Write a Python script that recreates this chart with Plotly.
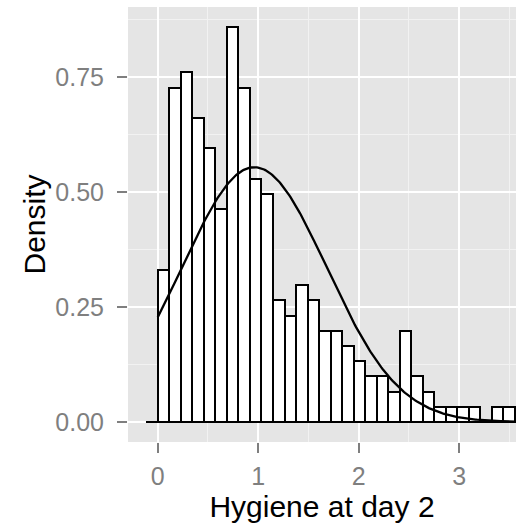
import numpy as np
import plotly.graph_objects as go

# Histogram of hygiene at day 2 (counts per bin), ggplot default 30 bins
bin_width = 0.11467
bin_start = -0.11467
counts = [0, 10, 22, 23, 20, 18, 14, 26, 22, 16, 15, 8, 7, 9, 8, 6,
          6, 5, 4, 3, 3, 2, 6, 3, 2, 1, 1, 1, 1, 0, 1, 1]
n_obs = 264
mean_day2 = 0.9609
sd_day2 = 0.7204

x_ticks = [0, 1, 2, 3]
y_ticks = [0.0, 0.25, 0.5, 0.75]
y_tick_labels = ["0.00", "0.25", "0.50", "0.75"]

centers = [bin_start + (i + 0.5) * bin_width for i in range(len(counts))]
density = [c / (n_obs * bin_width) for c in counts]
x_lo = bin_start
x_hi = bin_start + len(counts) * bin_width

fig = go.Figure()
fig.add_trace(go.Bar(
    x=centers, y=density, width=bin_width,
    marker=dict(color="white", line=dict(color="black", width=2)),
    showlegend=False, hoverinfo="skip",
))
fig.add_trace(go.Scatter(
    x=[x_lo, x_hi], y=[0, 0], mode="lines",
    line=dict(color="black", width=2.2), showlegend=False, hoverinfo="skip",
))
xs = np.linspace(0, x_hi, 300)
ys = np.exp(-0.5 * ((xs - mean_day2) / sd_day2) ** 2) / (sd_day2 * np.sqrt(2 * np.pi))
fig.add_trace(go.Scatter(
    x=xs, y=ys, mode="lines", line=dict(color="black", width=2.3),
    showlegend=False, hoverinfo="skip",
))

font = "Liberation Sans, Arial, Helvetica, sans-serif"
fig.update_layout(
    width=517, height=527,
    margin=dict(l=128, r=1, t=7, b=85),
    paper_bgcolor="white", plot_bgcolor="#E5E5E5",
    bargap=0,
    font=dict(family=font),
    xaxis=dict(
        range=[-0.296, 3.565], tickvals=x_ticks, ticktext=[str(v) for v in x_ticks],
        showgrid=True, gridcolor="white", gridwidth=2, zeroline=False,
        ticks="outside", ticklen=10, tickwidth=2, tickcolor="#7F7F7F",
        tickfont=dict(size=25, color="#7F7F7F", family=font),
        ticklabelstandoff=2,
        minor=dict(dtick=0.5, tick0=0.5, showgrid=True, gridcolor="#F2F2F2", gridwidth=1, ticks=""),
        title=dict(text="Hygiene at day 2", font=dict(size=30, color="black", family=font), standoff=4),
        showline=False,
    ),
    yaxis=dict(
        range=[-0.0435, 0.902], tickvals=y_ticks, ticktext=y_tick_labels,
        showgrid=True, gridcolor="white", gridwidth=2, zeroline=False,
        ticks="outside", ticklen=10, tickwidth=2, tickcolor="#7F7F7F",
        tickfont=dict(size=25, color="#7F7F7F", family=font),
        ticklabelstandoff=8,
        minor=dict(dtick=0.25, tick0=0.125, showgrid=True, gridcolor="#F2F2F2", gridwidth=1, ticks=""),
        title=dict(text="Density", font=dict(size=30, color="black", family=font), standoff=0),
        showline=False,
    ),
)

fig.write_html("out.html")
